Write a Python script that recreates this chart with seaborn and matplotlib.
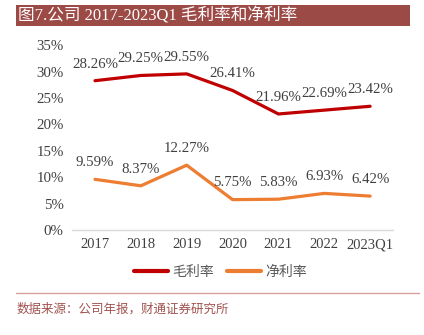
import matplotlib
matplotlib.use("Agg")
import matplotlib.pyplot as plt
import seaborn as sns
import pandas as pd
from matplotlib.lines import Line2D

years = ["2017", "2018", "2019", "2020", "2021", "2022", "2023Q1"]
gross_margin = [28.26, 29.25, 29.55, 26.41, 21.96, 22.69, 23.42]
net_margin = [9.59, 8.37, 12.27, 5.75, 5.83, 6.93, 6.42]
series_names = ["毛利率", "净利率"]
yticks = [0, 5, 10, 15, 20, 25, 30, 35]

sns.set_theme(style="white")
plt.rcParams['font.family'] = ['Liberation Serif', 'Noto Sans CJK SC']

df = pd.DataFrame({
    "year": years * 2,
    "value": gross_margin + net_margin,
    "series": [series_names[0]] * len(years) + [series_names[1]] * len(years),
})
colors = {series_names[0]: "#C00000", series_names[1]: "#ED7D31"}

fig = plt.figure(figsize=(4.24, 3.35), dpi=100)
ax = fig.add_axes([0.170, 0.3134, 0.757, 0.552])

sns.lineplot(data=df, x="year", y="value", hue="series", palette=colors,
             linewidth=2.3, ax=ax, legend=False, sort=False)

for vals in (gross_margin, net_margin):
    for i, v in enumerate(vals):
        ax.annotate(f"{v:.2f}%", (i, v), xytext=(0, 12), textcoords="offset points",
                    ha="center", va="center", fontsize=10.7, color="#404040",
                    family=['Liberation Serif'])

ax.set_ylim(0, 35)
ax.set_xlim(-0.5, len(years) - 0.5)
ax.set_yticks(yticks)
ax.set_yticklabels([f"{t}%" for t in yticks], fontsize=10.7, color="#404040",
                   family=['Liberation Serif'])
ax.set_xticks(range(len(years)))
ax.set_xticklabels(years, fontsize=10.5, color="#404040", family=['Liberation Serif'])
ax.tick_params(axis='both', length=0, pad=6)
ax.set_xlabel("")
ax.set_ylabel("")
for s in ["top", "right", "left"]:
    ax.spines[s].set_visible(False)
ax.spines["bottom"].set_color("#D9D9D9")
ax.spines["bottom"].set_linewidth(1)
ax.grid(False)

handles = [Line2D([0], [0], color=colors[n], lw=3) for n in series_names]
fig.legend(handles, series_names, loc="center", bbox_to_anchor=(0.52, 0.188),
           ncol=2, frameon=False, handlelength=2.4,
           columnspacing=1.0, handletextpad=0.3,
           prop={'family': ['Noto Sans CJK SC'], 'size': 10},
           labelcolor="#595959")

# title band
fig.patches.append(plt.Rectangle((16 / 424, 1 - 26 / 335), (410 - 16) / 424, 21 / 335,
                                 transform=fig.transFigure, facecolor="#9C4A46",
                                 edgecolor="none", zorder=0))
fig.text(18 / 424, 1 - 15.5 / 335, "图7.公司 2017-2023Q1 毛利率和净利率", color="white",
         fontsize=12, va="center", ha="left")

# footer line
fig.add_artist(Line2D([16 / 424, 419 / 424], [1 - 293 / 335, 1 - 293 / 335],
                      transform=fig.transFigure, color="#D8A09B", lw=1))
fig.text(17 / 424, 1 - 309 / 335, "数据来源：公司年报，财通证券研究所", color="#A0524F",
         fontsize=9, va="center", ha="left", family=['Noto Sans CJK SC'])

fig.savefig("out.png", dpi=100)
